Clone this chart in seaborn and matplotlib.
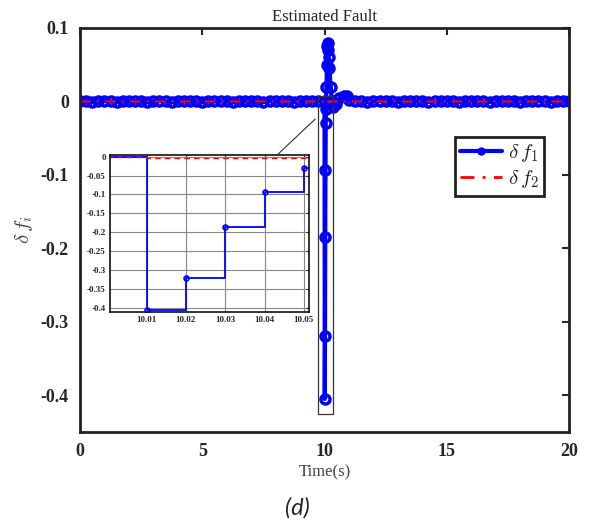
import numpy as np
import pandas as pd
import matplotlib
matplotlib.use('Agg')
import matplotlib.pyplot as plt
import seaborn as sns
from matplotlib.patches import Rectangle, ConnectionPatch

sns.set_theme(style='white')
plt.rcParams['font.family'] = ['Liberation Serif', 'DejaVu Serif']
plt.rcParams['mathtext.fontset'] = 'cm'

# 数据：基线段（故障前/后），故障段
t_before = [0.0, 0.25, 0.5, 0.75, 1.0, 1.25, 1.5, 1.75, 2.0, 2.25, 2.5, 2.75,
            3.0, 3.25, 3.5, 3.75, 4.0, 4.25, 4.5, 4.75, 5.0, 5.25, 5.5, 5.75,
            6.0, 6.25, 6.5, 6.75, 7.0, 7.25, 7.5, 7.75, 8.0, 8.25, 8.5, 8.75,
            9.0, 9.25, 9.5, 9.75]
f1_before = [0.0, 0.001, -0.001, 0.0, 0.001, 0.0, -0.001, 0.001, 0.0, 0.0, 0.001, -0.001,
             0.0, 0.001, 0.0, -0.001, 0.0, 0.001, 0.0, 0.0, -0.001, 0.001, 0.0, 0.0,
             0.001, -0.001, 0.0, 0.001, 0.0, 0.0, -0.001, 0.001, 0.0, 0.0, 0.001, -0.001,
             0.0, 0.001, 0.0, 0.0]
f2_before = [0.0] * len(t_before)

t_fault = [10.0, 10.01, 10.02, 10.03, 10.04, 10.05, 10.06, 10.08, 10.1, 10.12,
           10.14, 10.16, 10.18, 10.2, 10.25, 10.3, 10.35, 10.45, 10.6, 10.8, 10.9, 11.0]
f1_fault = [0.0, -0.405, -0.32, -0.185, -0.093, -0.03, -0.01, 0.02, 0.05, 0.075,
            0.079, 0.07, 0.06, 0.045, 0.02, 0.0, -0.008, -0.003, 0.004, 0.008, 0.007, 0.002]
f2_fault = [0.0, -0.003, -0.003, -0.003, -0.003, -0.003, -0.003, -0.002, -0.002, -0.001,
            -0.001, -0.001, 0.0, 0.0, 0.0, 0.0, 0.0, 0.0, 0.0, 0.0, 0.0, 0.0]

t_after = [11.25, 11.5, 11.75, 12.0, 12.25, 12.5, 12.75, 13.0, 13.25, 13.5, 13.75,
           14.0, 14.25, 14.5, 14.75, 15.0, 15.25, 15.5, 15.75, 16.0, 16.25, 16.5,
           16.75, 17.0, 17.25, 17.5, 17.75, 18.0, 18.25, 18.5, 18.75, 19.0, 19.25,
           19.5, 19.75, 20.0]
f1_after = [0.001, 0.0, -0.001, 0.0, 0.001, 0.0, 0.0, -0.001, 0.001, 0.0, 0.0,
            0.001, -0.001, 0.0, 0.0, 0.001, 0.0, -0.001, 0.0, 0.001, 0.0, 0.0,
            -0.001, 0.001, 0.0, 0.0, 0.001, -0.001, 0.0, 0.0, 0.001, 0.0, -0.001,
            0.0, 0.001, 0.0]
f2_after = [0.0] * len(t_after)

df = pd.DataFrame({
    't': t_before + t_fault + t_after,
    'f1': f1_before + f1_fault + f1_after,
    'f2': f2_before + f2_fault + f2_after,
})
# 局部放大区间
zoom_df = df[(df['t'] >= 10.0) & (df['t'] <= 10.06)]

fig = plt.figure(figsize=(5.91, 5.24), dpi=100)
ax = fig.add_axes([0.1354, 0.1756, 0.8274, 0.771])

sns.lineplot(data=df, x='t', y='f1', ax=ax, color='blue', lw=3, marker='o',
             markersize=6.5, markerfacecolor='none', markeredgecolor='blue',
             markeredgewidth=2.5, label=r'$\delta\, f_1$', estimator=None, sort=False)
sns.lineplot(data=df, x='t', y='f2', ax=ax, color='red', lw=1.5,
             dashes=False, linestyle=(0, (5, 3, 1, 3)), label=r'$\delta\, f_2$',
             estimator=None, sort=False)

ax.set_xlim(0, 20)
ax.set_ylim(-0.45, 0.1)
ax.set_xticks([0, 5, 10, 15, 20])
ax.set_yticks([0.1, 0, -0.1, -0.2, -0.3, -0.4])
ax.set_yticklabels(['0.1', '0', '-0.1', '-0.2', '-0.3', '-0.4'])
ax.tick_params(direction='in', length=5, width=1.5, top=True, right=True,
               labelsize=13, pad=8)
for lab in ax.get_xticklabels() + ax.get_yticklabels():
    lab.set_fontweight('bold')
for sp in ax.spines.values():
    sp.set_linewidth(2)
    sp.set_color('#222222')
ax.set_title('Estimated Fault', fontsize=12, pad=5)
ax.set_xlabel('Time(s)', fontsize=12, color='#444444', labelpad=3)
ax.set_ylabel(r'$\delta\, f_i$', fontsize=15, color='#444444', labelpad=4)

leg = ax.legend(loc='upper right', bbox_to_anchor=(0.949, 0.730), fontsize=15,
                fancybox=False, framealpha=1, edgecolor='#222222',
                handlelength=2.0, borderpad=0.25, labelspacing=0.2,
                handletextpad=0.3, borderaxespad=0)
leg.get_frame().set_linewidth(2)
leg.legend_handles[0].set_markersize(4)
leg.legend_handles[0].set_markeredgewidth(2)
leg.legend_handles[1].set_linewidth(2)

# 放大框
ax.add_patch(Rectangle((9.72, -0.425), 0.64, 0.433, fill=False,
                       edgecolor='#333333', lw=0.9, zorder=5))

# 插图
axins = fig.add_axes([0.1861, 0.4046, 0.3367, 0.2996])
sns.lineplot(data=zoom_df, x='t', y='f1', ax=axins, color='blue', lw=1.3,
             marker='o', markersize=3.5, markerfacecolor='none',
             markeredgecolor='blue', markeredgewidth=1.2,
             drawstyle='steps-post', estimator=None, sort=False)
sns.lineplot(data=zoom_df, x='t', y='f2', ax=axins, color='red', lw=1,
             dashes=False, linestyle=(0, (4, 3)), drawstyle='steps-post',
             estimator=None, sort=False)
axins.set_xlim(10.0007, 10.0513)
axins.set_ylim(-0.411, 0.0045)
axins.set_xticks([10.01, 10.02, 10.03, 10.04, 10.05])
axins.set_xticklabels(['10.01', '10.02', '10.03', '10.04', '10.05'])
axins.set_yticks([0, -0.05, -0.1, -0.15, -0.2, -0.25, -0.3, -0.35, -0.4])
axins.set_yticklabels(['0', '-0.05', '-0.1', '-0.15', '-0.2', '-0.25', '-0.3', '-0.35', '-0.4'])
axins.tick_params(direction='in', length=2, width=0.8, top=True, right=True,
                  labelsize=6.5, pad=3)
for lab in axins.get_xticklabels() + axins.get_yticklabels():
    lab.set_fontweight('bold')
axins.grid(True, color='#888888', lw=0.8)
axins.set_xlabel('')
axins.set_ylabel('')
for sp in axins.spines.values():
    sp.set_linewidth(1.2)
    sp.set_color('#111111')

con = ConnectionPatch(xyA=(0.84, 1.0), coordsA=axins.transAxes,
                      xyB=(9.62, -0.024), coordsB=ax.transData,
                      color='#333333', lw=0.8)
fig.add_artist(con)

fig.text(0.503, 0.011, '(d)', fontsize=17, style='italic',
         family=['Lato', 'DejaVu Sans'], ha='center', va='bottom')

fig.savefig('out.png', dpi=100)
